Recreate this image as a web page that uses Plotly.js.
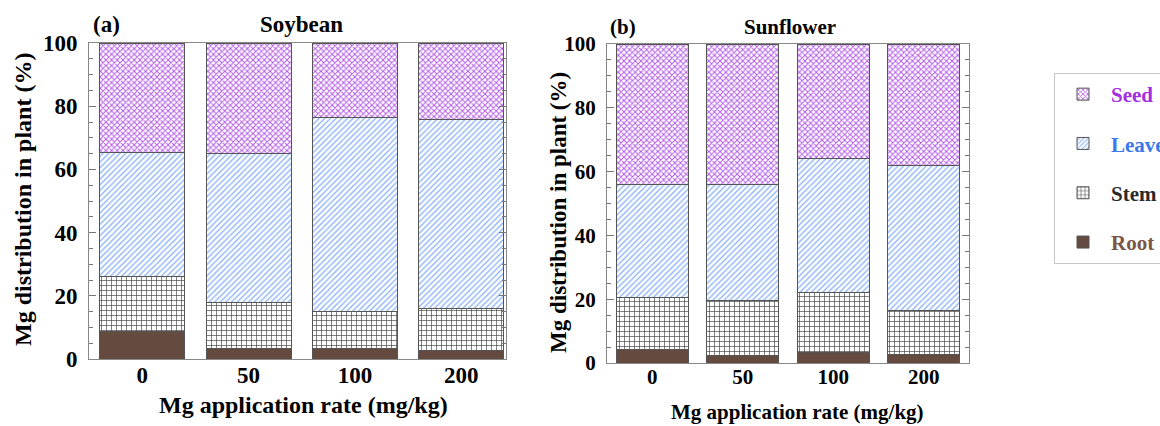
<!DOCTYPE html>
<html>
<head>
<meta charset="utf-8">
<script src="https://cdn.plot.ly/plotly-3.0.1.min.js"></script>
<style>html,body{margin:0;padding:0;background:#fff;overflow:hidden;width:1160px;height:426px;}#chart{width:1200px;height:426px;}</style>
</head>
<body>
<div id="chart"></div>
<script>
// Categories (Mg application rate, mg/kg)
const rates = ['0', '50', '100', '200'];
// Soybean: Mg distribution (%) by organ
const soyRoot   = [8.6, 3.4, 3.4, 2.8];
const soyStem   = [17.4, 14.5, 11.7, 13.3];
const soyLeaves = [39.5, 47.1, 61.3, 59.6];
const soySeed   = [34.5, 35.0, 23.6, 24.3];
// Sunflower: Mg distribution (%) by organ
const sunRoot   = [4.2, 2.3, 3.2, 2.8];
const sunStem   = [16.4, 17.2, 18.8, 13.8];
const sunLeaves = [35.5, 36.6, 42.2, 45.2];
const sunSeed   = [43.9, 43.9, 35.8, 38.2];

const FONT = '"Liberation Serif", "Times New Roman", serif';
const outline = {color: '#555', width: 1};
const styles = {
  root:   {rank: 4, name: '<span style="color:#7b5646">Root</span>', marker: {color: '#654a40', line: outline}},
  stem:   {rank: 3, name: '<span style="color:#2a2a2a">Stem</span>', marker: {color: '#ffffff', line: outline,
            pattern: {shape: '+', fgcolor: '#444', bgcolor: '#ffffff', size: 5, solidity: 0.25}}},
  leaves: {rank: 2, name: '<span style="color:#3b78f0">Leaves</span>', marker: {color: '#ffffff', line: outline,
            pattern: {shape: '/', fgcolor: '#8fb5f5', bgcolor: '#ffffff', size: 4, solidity: 0.35}}},
  seed:   {rank: 1, name: '<span style="color:#a22fe0">Seed</span>', marker: {color: '#ffffff', line: outline,
            pattern: {shape: 'x', fgcolor: '#b45ee6', bgcolor: '#ffffff', size: 4, solidity: 0.45}}}
};

function mk(key, vals, xa, ya, show) {
  const s = styles[key];
  return {type: 'bar', x: rates, y: vals, xaxis: xa, yaxis: ya, name: s.name,
          legendgroup: key, legendrank: s.rank, showlegend: show, width: 0.8, marker: s.marker,
          hoverinfo: 'x+y+name'};
}

const data = [
  mk('root', soyRoot, 'x', 'y', true),
  mk('stem', soyStem, 'x', 'y', true),
  mk('leaves', soyLeaves, 'x', 'y', true),
  mk('seed', soySeed, 'x', 'y', true),
  mk('root', sunRoot, 'x2', 'y2', false),
  mk('stem', sunStem, 'x2', 'y2', false),
  mk('leaves', sunLeaves, 'x2', 'y2', false),
  mk('seed', sunSeed, 'x2', 'y2', false)
];

// Figure is slightly wider than the window so the legend is cut at the right edge, as in the reference.
const W = 1200, H = 426;
const px = v => v / W, py = v => 1 - v / H;

const font = (size) => ({family: FONT, size: size, color: '#000', weight: 'bold'});
function yax(domain, anchor, size) {
  return {domain: domain, anchor: anchor, range: [0, 100], dtick: 20, tick0: 0,
          ticks: 'inside', ticklen: 7, tickcolor: '#777', tickwidth: 1,
          showline: true, linecolor: '#888', linewidth: 1, mirror: 'ticks',
          showgrid: false, zeroline: false, tickfont: font(size), ticklabelstandoff: 6,
          minor: {dtick: 5, ticks: 'inside', ticklen: 4, tickcolor: '#777', showgrid: false}};
}
function xax(domain, anchor, range, size) {
  return {domain: domain, anchor: anchor, type: 'category', range: range,
          ticks: '', showline: true, linecolor: '#888', linewidth: 1, mirror: true,
          showgrid: false, zeroline: false, tickfont: font(size), ticklabelstandoff: -5};
}

function ann(text, x, y, angle, size) {
  return {text: text, xref: 'paper', yref: 'paper', x: px(x), y: py(y),
          xanchor: 'center', yanchor: 'middle', showarrow: false,
          textangle: angle || 0, font: font(size)};
}

const layout = {
  width: W, height: H,
  margin: {l: 0, r: 0, t: 0, b: 0},
  paper_bgcolor: '#fff', plot_bgcolor: '#fff',
  barmode: 'stack',
  font: {family: FONT, color: '#000'},
  xaxis: xax([px(89), px(506)], 'y', [-0.5, 3.42], 23),
  yaxis: yax([py(359), py(43)], 'x', 23),
  xaxis2: xax([px(607), px(969)], 'y2', [-0.5, 3.5], 21),
  yaxis2: yax([py(363), py(44)], 'x2', 21),
  showlegend: true,
  legend: {x: px(1054), y: py(73), xanchor: 'left', yanchor: 'top',
           bordercolor: '#c8c8c8', borderwidth: 1, bgcolor: '#fff',
           traceorder: 'grouped', tracegroupgap: 19, itemwidth: 46,
           font: {family: FONT, size: 21, weight: 'bold'}},
  annotations: [
    ann('(a)', 106, 24, 0, 23), ann('Soybean', 301, 24, 0, 23),
    ann('(b)', 623, 27, 0, 21), ann('Sunflower', 790, 27, 0, 21),
    ann('Mg distribution in plant (%)', 23, 200, -90, 24),
    ann('Mg distribution in plant (%)', 558, 213, -90, 23),
    ann('Mg application rate (mg/kg)', 303, 405, 0, 24),
    ann('Mg application rate (mg/kg)', 797, 412, 0, 21)
  ]
};

Plotly.newPlot('chart', data, layout, {displayModeBar: false, staticPlot: true});
</script>
</body>
</html>
